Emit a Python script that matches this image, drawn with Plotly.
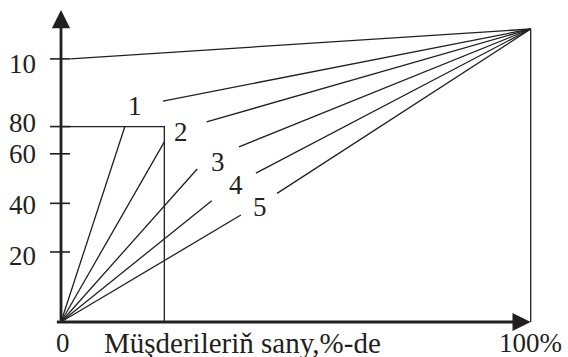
import plotly.graph_objects as go

# ---- data (schematic coordinates: x = % of customers, y = drawn height in % of frame) ----
origin = (0.0, 0.0)
top_right = (100.0, 100.0)

# line "10(0)" from the y-axis to the top-right corner
top_line_start = (2.0, 89.8)

# 80% box
box_x = 22.0
box_y = 66.7

curve_names = ["1", "2", "3", "4", "5"]
# lower segment end points (from origin)
lower_x = [13.6, 22.0, 29.0, 32.1, 38.3]
lower_y = [66.7, 61.5, 52.2, 41.4, 36.5]
# upper segment start points (to top-right)
upper_x = [21.7, 31.0, 37.9, 41.5, 46.0]
upper_y = [75.4, 68.3, 59.8, 50.8, 43.9]
# label positions
label_x = [15.8, 25.6, 33.4, 37.3, 42.4]
label_y = [73.6, 65.0, 54.6, 46.8, 39.4]

ytick_labels = ["20", "40", "60", "80", "10"]
ytick_pos = [23.9, 40.5, 57.4, 66.7, 89.8]

x_start_label = "0"
x_end_label = "100%"
x_title = "Müşderileriň sany,%-de"

# ---- styling / geometry of the page ----
W, H = 568, 357
px_per_x = 4.697
px_per_y = 2.93
x0_px, y0_px = 61.0, 322.0
xr = [(0 - x0_px) / px_per_x, (W - x0_px) / px_per_x]
yr = [(y0_px - H) / px_per_y, (y0_px - 0) / px_per_y]
ytick_label_shift = [-4, -2, 0, 4, -5]   # pixel nudges of the y labels

FONT = "Liberation Serif, Times New Roman, serif"
BLACK = "#231f20"
thin = dict(color=BLACK, width=1.3)

fig = go.Figure()

def seg(x, y, line=thin):
    fig.add_trace(go.Scatter(x=x, y=y, mode="lines", line=line,
                             hoverinfo="skip", showlegend=False))

# top line
seg([top_line_start[0], top_right[0]], [top_line_start[1], top_right[1]])
# box
seg([0, box_x, box_x], [box_y, box_y, 0])
# right vertical
seg([top_right[0], top_right[0]], [top_right[1], 0])
# curves
for i in range(len(curve_names)):
    seg([origin[0], lower_x[i]], [origin[1], lower_y[i]])
    seg([upper_x[i], top_right[0]], [upper_y[i], top_right[1]])
    fig.add_annotation(x=label_x[i], y=label_y[i], text=curve_names[i],
                       showarrow=False, xanchor="center", yanchor="middle",
                       font=dict(family=FONT, size=27, color=BLACK))

# y ticks
tick_l = 11 / px_per_x
tick_r = 9 / px_per_x
for v, t, s in zip(ytick_pos, ytick_labels, ytick_label_shift):
    seg([-tick_l, tick_r], [v, v], line=dict(color=BLACK, width=1.6))
    fig.add_annotation(x=-23 / px_per_x, y=v, text=t, showarrow=False,
                       xanchor="right", yanchor="middle", yshift=s,
                       font=dict(family=FONT, size=27, color=BLACK))

# axes with arrows
y_tip = (y0_px - 10) / px_per_y
fig.add_annotation(x=0, y=y_tip, ax=0, ay=0, xref="x", yref="y",
                   axref="x", ayref="y", showarrow=True, arrowhead=2,
                   arrowsize=1.3, arrowwidth=2.8, arrowcolor=BLACK, text="")
fig.add_annotation(x=100, y=0, ax=-1.2, ay=0, xref="x", yref="y",
                   axref="x", ayref="y", showarrow=True, arrowhead=2,
                   arrowsize=1.3, arrowwidth=2.8, arrowcolor=BLACK, text="")

# x labels
fig.add_annotation(x=0.5, y=-21 / px_per_y, text=x_start_label, showarrow=False,
                   xanchor="center", yanchor="middle",
                   font=dict(family=FONT, size=27, color=BLACK))
fig.add_annotation(x=100, y=-21 / px_per_y, text=x_end_label, showarrow=False,
                   xanchor="center", yanchor="middle",
                   font=dict(family=FONT, size=27, color=BLACK))
fig.add_annotation(x=(102 - x0_px) / px_per_x, y=-21 / px_per_y, text=x_title,
                   showarrow=False, xanchor="left", yanchor="middle",
                   font=dict(family=FONT, size=29, color=BLACK))

fig.update_layout(
    width=W, height=H,
    margin=dict(l=0, r=0, t=0, b=0),
    paper_bgcolor="white", plot_bgcolor="white",
    xaxis=dict(range=xr, visible=False, fixedrange=True),
    yaxis=dict(range=yr, visible=False, fixedrange=True),
    showlegend=False,
)

fig.write_html(
    "out.html",
    config={"displayModeBar": False},
    post_script="document.body.style.margin='0';document.body.style.overflow='hidden';",
)
